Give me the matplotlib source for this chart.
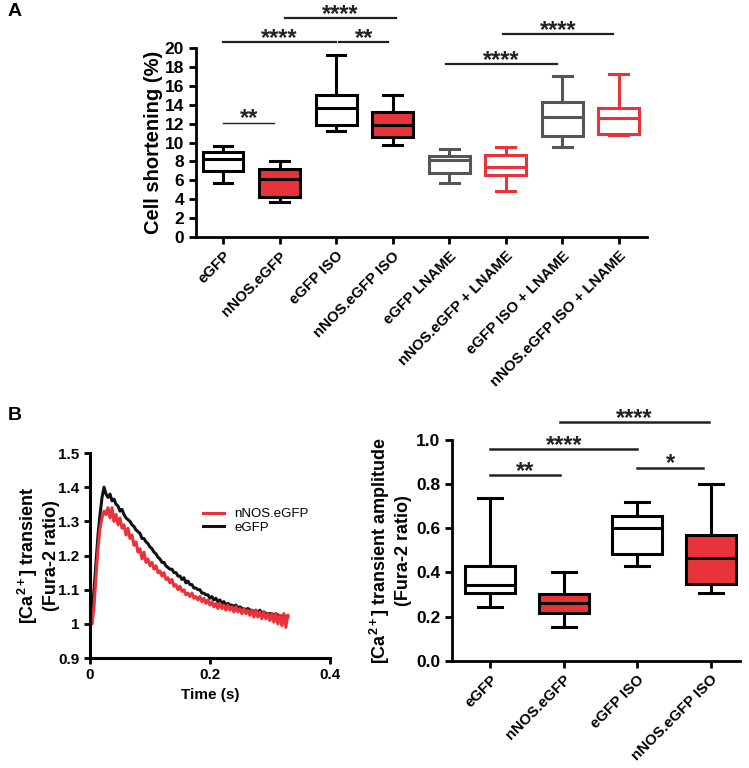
import numpy as np
import matplotlib
matplotlib.use("Agg")
import matplotlib.pyplot as plt

plt.rcParams['font.family'] = ['Liberation Sans', 'DejaVu Sans']
plt.rcParams['font.weight'] = 'bold'
plt.rcParams['mathtext.fontset'] = 'custom'
plt.rcParams['mathtext.rm'] = 'Liberation Sans:bold'
plt.rcParams['mathtext.it'] = 'Liberation Sans:bold'
plt.rcParams['mathtext.bf'] = 'Liberation Sans:bold'

RED = '#e8333a'
GREY = '#555555'

# --- panel A: cell shortening box plots ---
groups_a = ["eGFP", "nNOS.eGFP", "eGFP ISO", "nNOS.eGFP ISO", "eGFP LNAME",
            "nNOS.eGFP + LNAME", "eGFP ISO + LNAME", "nNOS.eGFP ISO + LNAME"]
whislo_a = [5.7, 3.7, 11.2, 9.7, 5.7, 4.9, 9.5, 10.8]
q1_a = [7.0, 4.2, 11.9, 10.6, 6.8, 6.6, 10.7, 10.9]
med_a = [8.3, 6.1, 13.6, 11.8, 8.1, 7.4, 12.7, 12.6]
q3_a = [9.0, 7.2, 15.0, 13.2, 8.6, 8.7, 14.25, 13.7]
whishi_a = [9.6, 8.0, 19.3, 15.0, 9.3, 9.5, 17.0, 17.3]
edge_a = ['black', 'black', 'black', 'black', GREY, RED, GREY, RED]
fill_a = ['white', RED, 'white', RED, 'white', 'white', 'white', 'white']
# significance bars: (start group, end group, height, label, linewidth)
sig_a = [(0, 0.9, 12.1, "**", 1.0), (0, 2, 20.6, "****", 1.6), (2.05, 2.92, 20.6, "**", 1.6),
         (1.1, 3.05, 23.2, "****", 1.6), (3.95, 5.9, 18.3, "****", 1.6), (4.95, 6.9, 21.5, "****", 1.6)]

# --- panel B right: Ca transient amplitude ---
groups_b = ["eGFP", "nNOS.eGFP", "eGFP ISO", "nNOS.eGFP ISO"]
whislo_b = [0.245, 0.154, 0.429, 0.308]
q1_b = [0.308, 0.214, 0.483, 0.346]
med_b = [0.343, 0.263, 0.600, 0.464]
q3_b = [0.429, 0.302, 0.656, 0.570]
whishi_b = [0.739, 0.403, 0.720, 0.800]
edge_b = ['black', 'black', 'black', 'black']
fill_b = ['white', RED, 'white', RED]
sig_b = [(0, 0.95, 0.841, "**"), (0, 2, 0.958, "****"), (2, 2.9, 0.875, "*"), (0.95, 2.98, 1.08, "****")]

# --- panel B left: Ca transient traces ---
time_s = np.arange(100) * 0.00333
egfp_trace = [1.02, 1.04, 1.10, 1.18, 1.26, 1.32, 1.37, 1.40, 1.38, 1.37,
              1.38, 1.36, 1.365, 1.35, 1.345, 1.33, 1.335, 1.32, 1.31, 1.305,
              1.30, 1.29, 1.285, 1.275, 1.27, 1.265, 1.25, 1.25, 1.24, 1.235,
              1.225, 1.22, 1.21, 1.205, 1.195, 1.19, 1.18, 1.18, 1.17, 1.165,
              1.16, 1.16, 1.15, 1.15, 1.14, 1.14, 1.13, 1.135, 1.12, 1.125,
              1.115, 1.115, 1.105, 1.105, 1.10, 1.10, 1.09, 1.09, 1.085, 1.085,
              1.075, 1.08, 1.07, 1.075, 1.065, 1.07, 1.06, 1.065, 1.055, 1.06,
              1.055, 1.055, 1.05, 1.055, 1.045, 1.05, 1.045, 1.045, 1.04, 1.045,
              1.04, 1.04, 1.035, 1.04, 1.03, 1.04, 1.03, 1.035, 1.03, 1.03,
              1.03, 1.03, 1.025, 1.03, 1.025, 1.025, 1.02, 1.025, 1.02, 1.02]
nnos_trace = [1.02, 1.00, 1.05, 1.14, 1.22, 1.28, 1.31, 1.33, 1.32, 1.34,
              1.31, 1.34, 1.30, 1.32, 1.29, 1.31, 1.28, 1.29, 1.26, 1.28,
              1.25, 1.26, 1.23, 1.24, 1.21, 1.22, 1.19, 1.21, 1.18, 1.19,
              1.17, 1.18, 1.16, 1.17, 1.15, 1.155, 1.14, 1.15, 1.13, 1.135,
              1.12, 1.13, 1.11, 1.115, 1.10, 1.11, 1.095, 1.10, 1.085, 1.09,
              1.08, 1.09, 1.075, 1.08, 1.07, 1.08, 1.065, 1.075, 1.06, 1.07,
              1.055, 1.065, 1.05, 1.06, 1.045, 1.06, 1.045, 1.055, 1.04, 1.055,
              1.04, 1.05, 1.035, 1.05, 1.035, 1.045, 1.03, 1.045, 1.03, 1.04,
              1.025, 1.04, 1.02, 1.04, 1.02, 1.035, 1.015, 1.035, 1.015, 1.03,
              1.01, 1.03, 1.005, 1.03, 1.00, 1.025, 0.995, 1.03, 0.99, 1.025]


def box_panel(ax, names, lo, q1, med, q3, hi, edges, fills, width, capw):
    stats = []
    for i in range(len(names)):
        stats.append(dict(whislo=lo[i], q1=q1[i], med=med[i], q3=q3[i], whishi=hi[i], label=names[i]))
    pos = np.arange(len(names))
    bp = ax.bxp(stats, positions=pos, widths=width, showfliers=False, patch_artist=True,
                capwidths=capw)
    for i in range(len(names)):
        bp['boxes'][i].set(facecolor=fills[i], edgecolor=edges[i], linewidth=2.2)
        bp['medians'][i].set(color=edges[i], linewidth=2.2)
        for k in (2 * i, 2 * i + 1):
            bp['whiskers'][k].set(color=edges[i], linewidth=2.2)
            bp['caps'][k].set(color=edges[i], linewidth=2.2)
    ax.set_xticks(pos)
    ax.set_xticklabels(names, rotation=45, ha='right', rotation_mode='anchor')
    for s in ('top', 'right'):
        ax.spines[s].set_visible(False)
    for s in ('left', 'bottom'):
        ax.spines[s].set_linewidth(2)
    ax.tick_params(width=2, length=5)


def stars(ax, x, y, lab):
    ax.annotate(lab, (x, y), xytext=(0, -2), textcoords='offset points', ha='center',
                va='baseline', fontsize=17, fontweight='bold', color='#222222',
                annotation_clip=False)


fig = plt.figure(figsize=(7.49, 7.68), dpi=100)

# panel A
axA = fig.add_axes([0.2617, 0.6914, 0.6021, 0.2461])
box_panel(axA, groups_a, whislo_a, q1_a, med_a, q3_a, whishi_a, edge_a, fill_a, 0.72, 0.33)
axA.set_ylim(0, 20)
axA.set_yticks(np.arange(0, 21, 2))
axA.set_xlim(-0.48, 7.5)
axA.tick_params(axis='y', labelsize=12.5)
axA.tick_params(axis='x', labelsize=10.8)
axA.set_ylabel("Cell shortening (%)", fontsize=14.5, fontweight='bold')
axA.yaxis.set_label_coords(-0.073, 0.5)
for x0, x1, y, lab, lw in sig_a:
    axA.plot([x0, x1], [y, y], color='#222222', lw=lw, clip_on=False)
    stars(axA, (x0 + x1) / 2, y, lab)

# panel B left
axL = fig.add_axes([0.1202, 0.1432, 0.3204, 0.2669])
axL.plot(time_s, egfp_trace, color='#111111', lw=2.2, label='eGFP')
axL.plot(time_s, nnos_trace, color=RED, lw=2.2, label='nNOS.eGFP')
axL.set_xlim(0, 0.4)
axL.set_ylim(0.9, 1.5)
axL.set_xticks([0, 0.2, 0.4])
axL.set_xticklabels(["0", "0.2", "0.4"])
axL.set_yticks([0.9, 1.0, 1.1, 1.2, 1.3, 1.4, 1.5])
axL.set_yticklabels(["0.9", "1", "1.1", "1.2", "1.3", "1.4", "1.5"])
for s in ('top', 'right'):
    axL.spines[s].set_visible(False)
for s in ('left', 'bottom'):
    axL.spines[s].set_linewidth(2.2)
axL.tick_params(width=2, length=4, labelsize=11)
axL.set_xlabel("Time (s)", fontsize=11, fontweight='bold')
axL.set_ylabel("[Ca$^{2+}$] transient\n(Fura-2 ratio)", fontsize=13, fontweight='bold')
axL.yaxis.set_label_coords(-0.125, 0.5)
h, l = axL.get_legend_handles_labels()
axL.legend(h[::-1], l[::-1], loc='upper left', bbox_to_anchor=(0.42, 0.79), frameon=False,
           handlelength=1.6, prop={'weight': 'normal', 'size': 9.5},
           labelspacing=0.1, handletextpad=0.8)

# panel B right
axR = fig.add_axes([0.6035, 0.1397, 0.3845, 0.2874])
box_panel(axR, groups_b, whislo_b, q1_b, med_b, q3_b, whishi_b, edge_b, fill_b, 0.68, 0.33)
axR.set_ylim(0, 1.0)
axR.set_yticks(np.arange(0, 1.01, 0.2))
axR.set_yticklabels(["0.0", "0.2", "0.4", "0.6", "0.8", "1.0"])
axR.set_xlim(-0.52, 3.4)
axR.tick_params(axis='y', labelsize=12.5)
axR.tick_params(axis='x', labelsize=10.8)
axR.set_ylabel("[Ca$^{2+}$] transient amplitude\n(Fura-2 ratio)", fontsize=13, fontweight='bold')
axR.yaxis.set_label_coords(-0.139, 0.5)
for x0, x1, y, lab in sig_b:
    axR.plot([x0, x1], [y, y], color='#222222', lw=1.8, clip_on=False)
    stars(axR, (x0 + x1) / 2, y, lab)

fig.text(8 / 749, 1 - 12 / 768, "A", fontsize=14, fontweight='bold', va='center')
fig.text(8 / 749, 1 - 415 / 768, "B", fontsize=14, fontweight='bold', va='center')

fig.savefig("out.png", dpi=100)
